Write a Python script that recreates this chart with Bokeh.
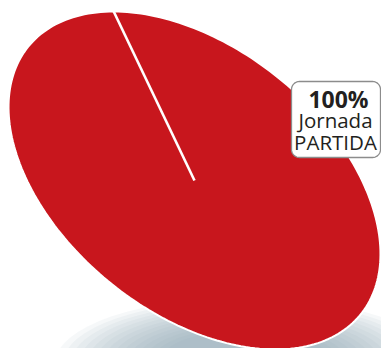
import numpy as np
from bokeh.plotting import figure
from bokeh.models import Range1d
from bokeh.embed import file_html
from bokeh.resources import INLINE
from bokeh.core.properties import value

# ---- data ----
categories = ["Jornada PARTIDA"]
values = [100]
pct_labels = ["100%"]
label_lines = [["Jornada", "PARTIDA"]]
slice_colors = ["#c8161d"]

# ---- layout (data units = pixels, y grows upward) ----
W, H = 381, 348
CX, CY = 194, 168                      # pie centre
M = np.array([[167.5, -80.8],          # perspective tilt of the unit pie
              [0.0, 169.0]])

p = figure(width=W, height=H, x_range=Range1d(0, W), y_range=Range1d(0, H),
           output_backend="svg", toolbar_location=None, min_border=0,
           x_axis_type=None, y_axis_type=None)
p.grid.visible = False
p.outline_line_color = None
p.background_fill_color = "white"
p.border_fill_color = "white"

# soft shadow under the pie
for i in range(14):
    p.ellipse(x=245, y=-14, width=380 - i * 16, height=130 - i * 5,
              fill_color="#8fa5b8", fill_alpha=0.08, line_color=None)

# pie slices
total = float(sum(values))
start = np.pi / 2
bounds = []
for v, c in zip(values, slice_colors):
    end = start - 2 * np.pi * v / total
    t = np.linspace(start, end, 240)
    ux, uy = np.cos(t), np.sin(t)
    if v < total:
        ux = np.concatenate([[0.0], ux])
        uy = np.concatenate([[0.0], uy])
    pts = M @ np.vstack([ux, uy])
    p.patch(CX + pts[0], CY + pts[1], fill_color=c, line_color="white", line_width=2)
    bounds.append(start)
    start = end

# slice separators
for a in bounds:
    e = M @ np.array([np.cos(a), np.sin(a)])
    p.segment(x0=CX, y0=CY, x1=CX + e[0], y1=CY + e[1], line_color="white", line_width=2.6)

# label box
def rounded_rect(x0, y0, x1, y1, r, n=10):
    corners = [(x1 - r, y1 - r, 0, 90), (x0 + r, y1 - r, 90, 180),
               (x0 + r, y0 + r, 180, 270), (x1 - r, y0 + r, 270, 360)]
    xs, ys = [], []
    for cx, cy, a0, a1 in corners:
        a = np.radians(np.linspace(a0, a1, n))
        xs += list(cx + r * np.cos(a))
        ys += list(cy + r * np.sin(a))
    return xs, ys

bx, by = rounded_rect(291, 191, 380, 267, 8)
p.patch(bx, by, fill_color="white", line_color="#8c8c8c", line_width=1.3)

p.text(x=[338], y=[250], text=pct_labels, text_font=value("Open Sans"),
       text_font_style="bold", text_font_size=value("23px"), text_color="#231f20",
       text_align="center", text_baseline="alphabetic")
p.text(x=[335, 335], y=[229, 207], text=label_lines[0], text_font=value("Open Sans"),
       text_font_size=value("20.5px"), text_color="#231f20",
       text_align="center", text_baseline="alphabetic")

open("out.html", "w").write(file_html(p, INLINE, title="Jornada PARTIDA"))
